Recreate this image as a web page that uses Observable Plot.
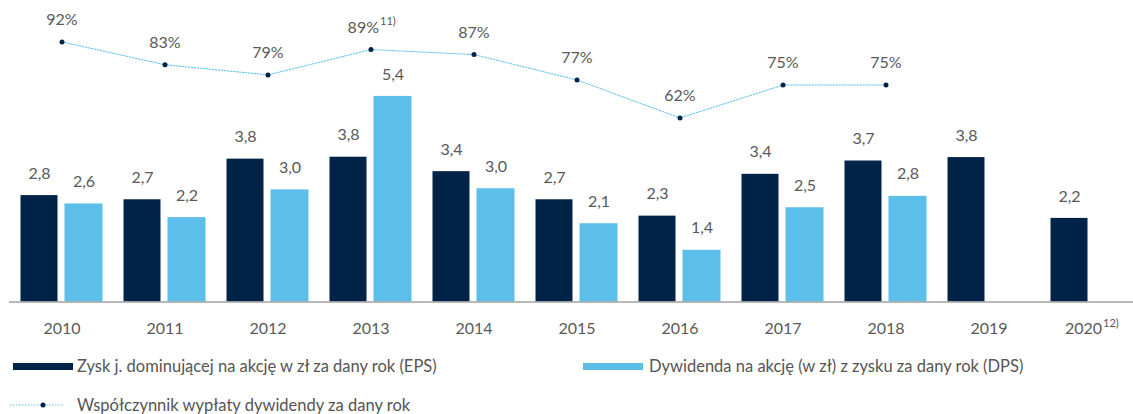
<!DOCTYPE html>
<html>
<head>
<meta charset="utf-8">
<script src="https://cdn.jsdelivr.net/npm/d3@7"></script>
<script src="https://cdn.jsdelivr.net/npm/@observablehq/plot@0.6"></script>
<style>
  html, body { margin: 0; padding: 0; background: #fff; }
  body { width: 1133px; height: 414px; position: relative; overflow: hidden; font-family: Lato, "Noto Sans", sans-serif; }
  #chart { position: absolute; left: 0; top: 0; }
  .lg { position: absolute; font-size: 16.5px; color: #555; white-space: nowrap; line-height: 20px; }
  .sw { position: absolute; height: 7px; width: 60px; }
</style>
</head>
<body>
<div id="chart"></div>
<div class="sw" style="left:13px; top:363px; background:#012348;"></div>
<div class="lg" id="lg1" style="left:77px; top:356px;"></div>
<div class="sw" style="left:583px; top:363px; background:#5bbfea;"></div>
<div class="lg" id="lg2" style="left:649px; top:356px;"></div>
<svg style="position:absolute; left:8px; top:399px;" width="60" height="12">
  <line x1="2" y1="6" x2="56" y2="6" stroke="#5bbfea" stroke-width="1" stroke-dasharray="1.5,1.5"></line>
  <circle cx="35" cy="6" r="2.5" fill="#012348"></circle>
</svg>
<div class="lg" id="lg3" style="left:77px; top:395px;"></div>
<script>
// ---- data ----
const years = ["2010", "2011", "2012", "2013", "2014", "2015", "2016", "2017", "2018", "2019", "2020"];
const eps = [2.80, 2.69, 3.76, 3.81, 3.43, 2.69, 2.26, 3.36, 3.71, 3.80, 2.20];
const dps = [2.58, 2.22, 2.95, 5.41, 2.98, 2.06, 1.36, 2.48, 2.78, null, null];
const payout = [92, 83, 79, 89, 87, 77, 62, 75, 75, null, null];
const payoutNotes = [null, null, null, "11)", null, null, null, null, null, null, null];
const yearNotes = [null, null, null, null, null, null, null, null, null, null, "12)"];
const seriesNames = [
  "Zysk j. dominującej na akcję w zł za dany rok (EPS)",
  "Dywidenda na akcję (w zł) z zysku za dany rok (DPS)",
  "Współczynnik wypłaty dywidendy za dany rok"
];

document.getElementById("lg1").textContent = seriesNames[0];
document.getElementById("lg2").textContent = seriesNames[1];
document.getElementById("lg3").textContent = seriesNames[2];

const rows = years.map((y, i) => ({year: y, eps: eps[i], dps: dps[i], payout: payout[i], pnote: payoutNotes[i], ynote: yearNotes[i]}));
const fmt = v => v.toFixed(1).replace(".", ",");
// payout ratio (%) drawn on the upper part of the same vertical scale
const ratioToY = r => 0.71 + r / 15;

const dark = "#012348", light = "#5bbfea", txt = "#595959";
const withDps = rows.filter(d => d.dps != null);
const withPay = rows.filter(d => d.payout != null);

const chart = Plot.plot({
  width: 1133,
  height: 345,
  marginLeft: 9,
  marginRight: 0,
  marginTop: 0,
  marginBottom: 43.5,
  x: {type: "band", domain: years, range: [9.5, 1142.5], padding: 0, axis: null},
  y: {domain: [0, 8], range: [301.5, 301.5 - 8 * 38], axis: null},
  style: {fontFamily: "Lato, 'Noto Sans', sans-serif", background: "white", overflow: "visible"},
  marks: [
    Plot.barY(rows, {x: "year", y: "eps", fill: dark, insetLeft: 10.5, insetRight: 55.5}),
    Plot.barY(withDps, {x: "year", y: "dps", fill: light, insetLeft: 54.5, insetRight: 10.5}),
    Plot.ruleY([0], {stroke: "#a0a0a0", strokeWidth: 1.5}),
    Plot.text(rows, {x: "year", y: "eps", text: d => fmt(d.eps), dx: -22.5, dy: -22, fill: txt, fontSize: 16}),
    Plot.text(withDps, {x: "year", y: "dps", text: d => fmt(d.dps), dx: 22, dy: -22, fill: txt, fontSize: 16}),
    Plot.line(withPay, {x: "year", y: d => ratioToY(d.payout), stroke: light, strokeWidth: 1, strokeDasharray: "1.5,1.5"}),
    Plot.dot(withPay, {x: "year", y: d => ratioToY(d.payout), r: 2.5, fill: dark}),
    Plot.text(withPay.filter(d => !d.pnote), {x: "year", y: d => ratioToY(d.payout), text: d => d.payout + "%", dy: -22, fill: txt, fontSize: 16}),
    Plot.text(withPay.filter(d => d.pnote), {x: "year", y: d => ratioToY(d.payout), text: d => d.payout + "%", dy: -22, dx: 8, textAnchor: "end", fill: txt, fontSize: 16}),
    Plot.text(withPay.filter(d => d.pnote), {x: "year", y: d => ratioToY(d.payout), text: "pnote", dy: -28, dx: 9, textAnchor: "start", fill: txt, fontSize: 11}),
    Plot.text(rows.filter(d => !d.ynote), {x: "year", y: () => 0, text: "year", dy: 27, fill: txt, fontSize: 16}),
    Plot.text(rows.filter(d => d.ynote), {x: "year", y: () => 0, text: "year", dy: 27, dx: 10, textAnchor: "end", fill: txt, fontSize: 16}),
    Plot.text(rows.filter(d => d.ynote), {x: "year", y: () => 0, text: "ynote", dy: 21, dx: 11, textAnchor: "start", fill: txt, fontSize: 11})
  ]
});
document.getElementById("chart").appendChild(chart);
</script>
</body>
</html>
